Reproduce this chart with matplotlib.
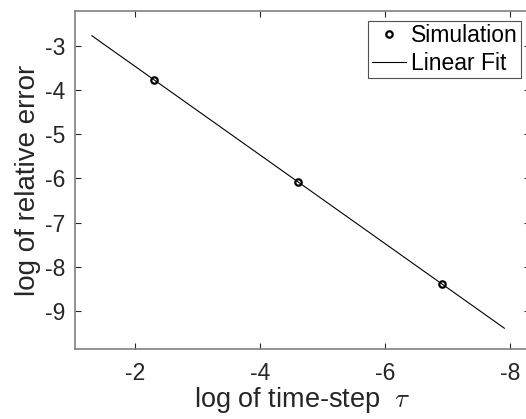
import matplotlib
matplotlib.use('Agg')
import matplotlib.pyplot as plt


# log of time-step (x) and log of relative error (y)
sim_x = [-2.303, -4.605, -6.908]
sim_y = [-3.78, -6.09, -8.39]

# end points of the linear fit
fit_x = [-1.31, -7.91]
fit_y = [-2.77, -9.39]

x_ticks = [-2, -4, -6, -8]
y_ticks = [-9, -8, -7, -6, -5, -4, -3]

plt.rcParams['font.family'] = ['Liberation Sans', 'DejaVu Sans']
plt.rcParams['mathtext.fontset'] = 'cm'

fig = plt.figure(figsize=(5.26, 4.19), dpi=100)
ax = fig.add_axes([75 / 526, 70 / 419, 455 / 526, 338 / 419])

ax.plot(sim_x, sim_y, 'o', color='black', markerfacecolor='none',
        markersize=4.6, markeredgewidth=1.6, label='Simulation')
ax.plot(fit_x, fit_y, '-', color='black', linewidth=0.8, label='Linear Fit')

ax.set_xlim(-1.04, -8.32)
ax.set_ylim(-9.86, -2.21)
ax.set_xticks(x_ticks)
ax.set_yticks(y_ticks)
ax.set_xticklabels([str(v) for v in x_ticks])
ax.set_yticklabels([str(v) for v in y_ticks])

# the right edge of the box lies just past the picture's edge
ax.tick_params(direction='in', length=4, width=0.8, color='#262626',
               labelsize=16.5, labelcolor='#262626', top=True, right=True,
               pad=7)
ax.tick_params(axis='x', pad=9)
for sp in ax.spines.values():
    sp.set_color('#808080')
    sp.set_linewidth(1.2)

ax.set_xlabel(r'log of time-step  $\tau$', fontsize=19.5, color='#262626',
              labelpad=0)
ax.set_ylabel('log of relative error', fontsize=20, color='#262626',
              labelpad=3)

leg = ax.legend(loc='upper right', bbox_to_anchor=(521 / 526, 1 - 21 / 419),
                bbox_transform=fig.transFigure, fontsize=16.5, frameon=True,
                fancybox=False, borderpad=0.15, handlelength=1.5,
                handletextpad=0.2, labelspacing=0.2, borderaxespad=0)
leg.get_frame().set_edgecolor('#262626')
leg.get_frame().set_linewidth(0.8)

fig.savefig('out.png', dpi=100)
